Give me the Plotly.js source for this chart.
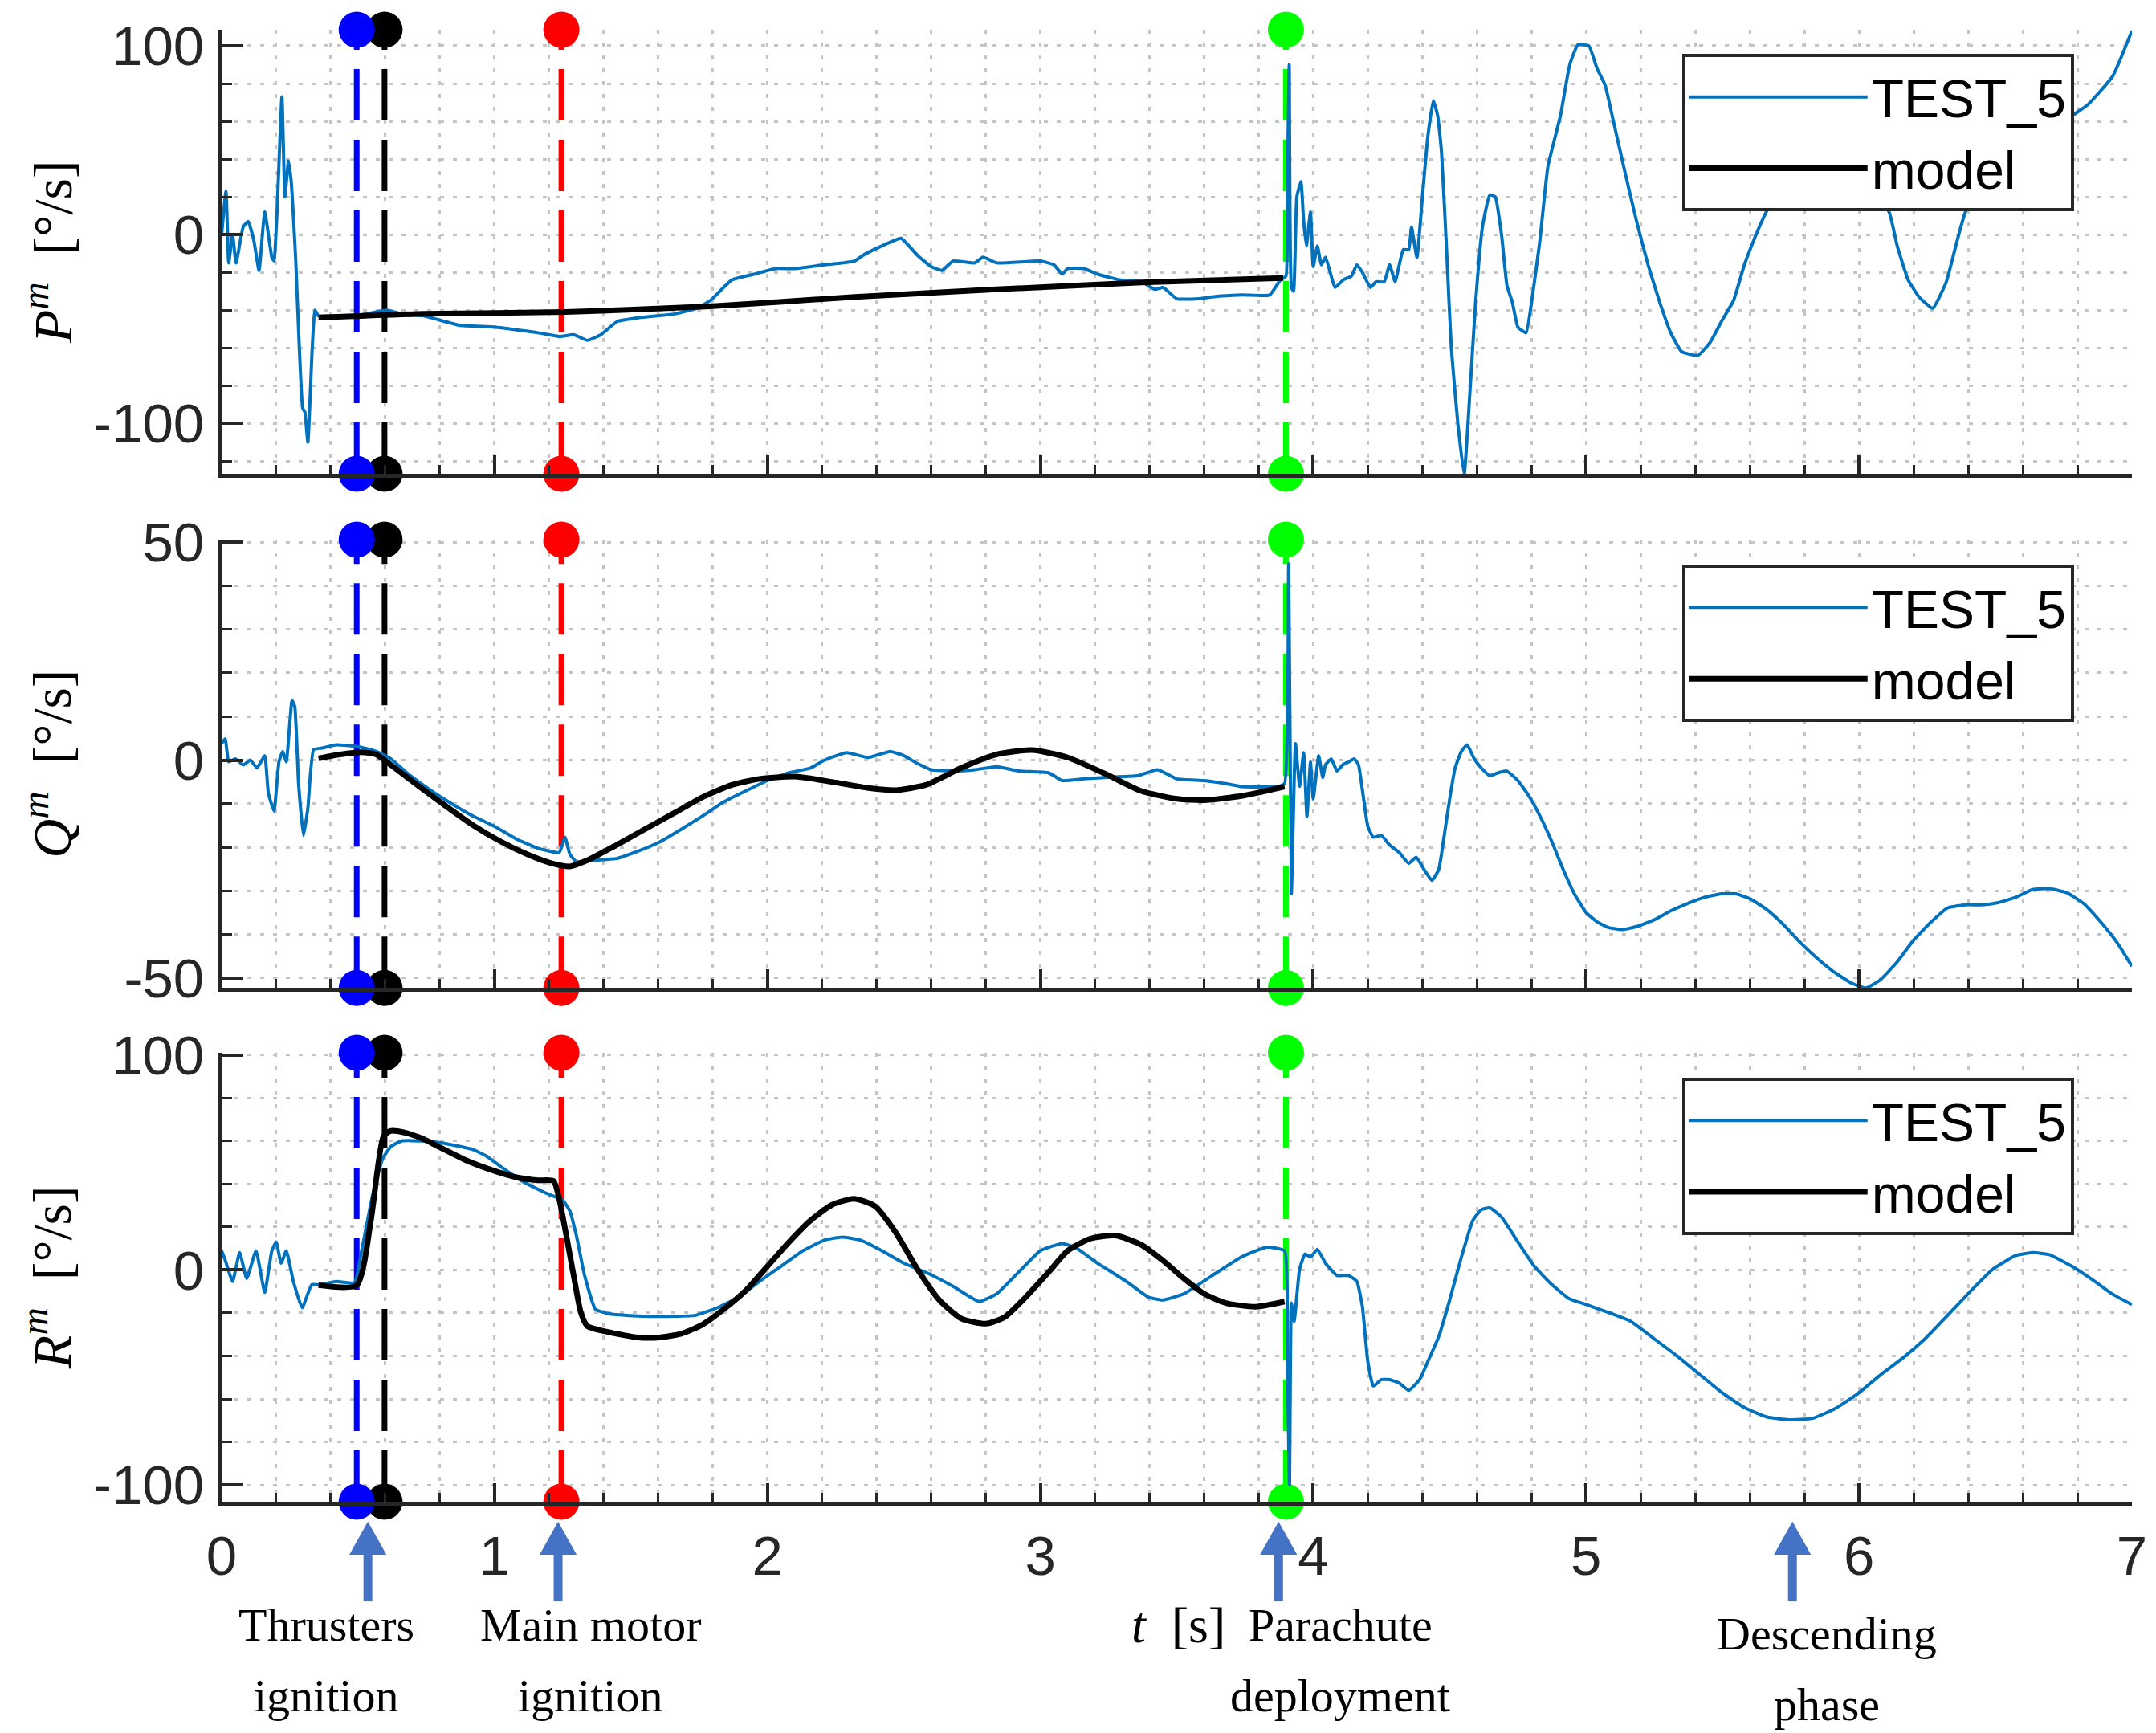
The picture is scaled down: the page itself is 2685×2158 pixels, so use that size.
<!DOCTYPE html>
<html>
<head>
<meta charset="utf-8">
<script src="https://cdn.plot.ly/plotly-3.0.1.min.js"></script>
<style>
  html, body { margin: 0; padding: 0; background: #fff; }
  #chart { width: 2685px; height: 2158px; }
</style>
</head>
<body>
<div id="chart"></div>
<script>
  // ---- data ----
  // P^m, measured (TEST_5)
  var tP = [0, 0.016, 0.026, 0.04, 0.053, 0.079, 0.097, 0.118, 0.137, 0.158, 0.184, 0.192, 0.203, 0.221, 0.232,
    0.245, 0.255, 0.271, 0.297, 0.305, 0.316, 0.332, 0.342, 0.355, 0.40, 0.47, 0.53, 0.605, 0.66, 0.74, 0.87,
    1.00, 1.16, 1.24, 1.29, 1.34, 1.39, 1.45, 1.53, 1.66, 1.74, 1.79, 1.87, 1.95, 2.03, 2.10, 2.21, 2.32, 2.35,
    2.39, 2.45, 2.49, 2.55, 2.60, 2.64, 2.68, 2.76, 2.79, 2.84, 3.00, 3.05, 3.08, 3.10, 3.16, 3.21, 3.29, 3.37,
    3.42, 3.45, 3.50, 3.58, 3.63, 3.74, 3.84, 3.88, 3.90, 3.905, 3.912, 3.92, 3.928, 3.94, 3.955, 3.965, 3.975,
    3.99, 4.00, 4.015, 4.03, 4.045, 4.066, 4.08, 4.11, 4.14, 4.16, 4.18, 4.21, 4.23, 4.26, 4.28, 4.30, 4.33,
    4.35, 4.36, 4.38, 4.40, 4.42, 4.44, 4.456, 4.47, 4.49, 4.506, 4.53, 4.553, 4.574, 4.595, 4.62, 4.647, 4.667,
    4.69, 4.71, 4.73, 4.75, 4.78, 4.80, 4.83, 4.86, 4.906, 4.94, 4.97, 5.01, 5.04, 5.07, 5.10, 5.144, 5.185,
    5.227, 5.27, 5.31, 5.35, 5.41, 5.455, 5.496, 5.54, 5.58, 5.62, 5.66, 5.72, 5.80, 5.88, 5.95, 6.03, 6.11,
    6.14, 6.18, 6.22, 6.27, 6.32, 6.36, 6.39, 6.48, 6.58, 6.70, 6.78, 6.84, 6.93, 7.00];
  var testP = [0, 23, -15, 0, -15, 4, 7, -3, -19, 12, -12, -14, 12, 73, 20,
    39, 28, -12, -92, -94, -110, -60, -40, -43, -43, -43, -42, -40, -42, -43, -48,
    -49, -52, -54, -53, -56, -53, -46, -44, -42, -39, -35, -24, -21, -18, -18, -16, -14, -11,
    -8, -4, -2, -11, -17, -19, -14, -15, -12, -15, -14, -16, -21, -18, -18, -21, -24, -25,
    -29, -28, -34, -34, -33, -32, -32, -24, -22, 20, 90, -28, -30, 20, 28, 7, -6,
    12, -17, -6, -16, -12, -22, -28, -24, -22, -16, -20, -28, -25, -25, -16, -25, -8,
    -8, 4, -12, 20, 52, 71, 63, 44, -12, -60, -100, -127, -84, -36, 4, 21, 20,
    0, -27, -36, -49, -52, -36, -4, 36, 63, 90, 100.5, 100, 88, 79, 60, 32, 7,
    -16, -36, -52, -62, -64, -57, -46, -35, -16, -1, 12, 28, 38, 40, 36, 26, 12,
    -6, -24, -33, -39, -25, -3, 12, 32, 47, 58, 63, 69, 84, 108];
  // P^m, model
  var tPm = [0.355, 0.74, 1.26, 1.79, 2.32, 2.84, 3.37, 3.89];
  var modelP = [-44, -42, -41, -38, -33, -29, -25.4, -23];

  // Q^m, measured (TEST_5)
  var tQ = [0, 0.013, 0.026, 0.05, 0.08, 0.105, 0.13, 0.158, 0.171, 0.192, 0.21, 0.224, 0.237, 0.258, 0.268,
    0.282, 0.30, 0.316, 0.337, 0.368, 0.42, 0.50, 0.566, 0.62, 0.684, 0.763, 0.84, 0.92, 1.0, 1.08, 1.158,
    1.237, 1.258, 1.276, 1.30, 1.368, 1.447, 1.526, 1.605, 1.684, 1.763, 1.84, 1.92, 2.0, 2.08, 2.158, 2.21,
    2.29, 2.37, 2.45, 2.50, 2.55, 2.60, 2.68, 2.76, 2.84, 2.92, 3.03, 3.08, 3.16, 3.26, 3.355, 3.43, 3.50,
    3.60, 3.68, 3.74, 3.87, 3.895, 3.91, 3.92, 3.935, 3.95, 3.965, 3.977, 3.99, 4.0, 4.02, 4.035, 4.045,
    4.066, 4.087, 4.108, 4.13, 4.15, 4.166, 4.18, 4.2, 4.22, 4.25, 4.28, 4.315, 4.35, 4.377, 4.41, 4.435,
    4.46, 4.48, 4.50, 4.52, 4.543, 4.564, 4.59, 4.616, 4.647, 4.678, 4.709, 4.75, 4.79, 4.833, 4.875, 4.916,
    4.957, 5.0, 5.04, 5.08, 5.134, 5.185, 5.248, 5.31, 5.372, 5.434, 5.496, 5.548, 5.6, 5.662, 5.724, 5.787,
    5.849, 5.91, 5.973, 6.025, 6.077, 6.14, 6.2, 6.265, 6.325, 6.39, 6.45, 6.51, 6.574, 6.636, 6.698, 6.76,
    6.823, 6.885, 6.947, 7.0];
  var testQ = [3.8, 4.9, -0.4, 0.3, -1.1, 0, -1.8, 1, -7.5, -11.7, -0.4, 2, -0.4, 13.7, 12.3,
    -5.4, -17.3, -11, 2.4, 2.75, 3.5, 3.1, 2, 0.3, -3.2, -6.8, -9.9, -12.8, -15.2, -18.1, -20.2,
    -21.2, -17.7, -21.6, -23.3, -23, -22.6, -20.9, -18.8, -15.9, -12.8, -9.6, -7.1, -4.7, -2.9, -1.8, 0,
    1.7, 0.6, 2, 1, -0.8, -2.2, -2.5, -2.2, -1.5, -2.5, -2.9, -4.7, -4.3, -3.9, -3.6, -2.2, -4.3,
    -4.7, -5.4, -6.1, -6.1, -5.4, 45, -30.7, 3.8, -6, 1.7, -13, -0.4, -8.9, 1, -4, -1.1,
    0.3, -2.5, -1.1, -0.4, 0.3, -1.1, -6.8, -15.2, -17.7, -17.3, -19.5, -21.2, -23.7, -22.3, -25.5, -27.6,
    -25.1, -17.3, -8.9, -1.8, 2, 3.5, 0.3, -1.8, -3.6, -2.9, -2.5, -4.7, -8.2, -13.1, -18.8, -25.1,
    -30.7, -35, -37.1, -38.4, -38.9, -38.2, -36.7, -34.6, -32.9, -31.5, -30.7, -30.7, -31.8, -34.3, -37.8, -42,
    -45.6, -48.7, -51.2, -52.3, -50.5, -46.3, -41.3, -37.1, -33.9, -33.2, -33.2, -32.7, -31.5, -29.7, -29.5, -30.4,
    -32.9, -37.1, -42, -47.3];
  // Q^m, model
  var tQm = [0.355, 0.434, 0.513, 0.566, 0.62, 0.71, 0.816, 0.92, 1.026, 1.13, 1.21, 1.276, 1.34, 1.447, 1.55,
    1.66, 1.763, 1.87, 1.97, 2.1, 2.237, 2.37, 2.47, 2.58, 2.71, 2.84, 2.97, 3.1, 3.24, 3.37, 3.5, 3.6, 3.74, 3.895];
  var modelQ = [0.4, 1.3, 1.8, 1.3, -1.1, -5.4, -10.3, -14.9, -18.8, -21.9, -23.7, -24.4, -23, -19.5, -15.9,
    -12.1, -8.5, -5.7, -4.3, -3.8, -5, -6.4, -6.9, -5.7, -1.8, 1.3, 2.3, 0.6, -3.2, -7.1, -8.9, -9.2, -8.2, -6.1];

  // R^m, measured (TEST_5)
  var tR = [0, 0.013, 0.04, 0.066, 0.092, 0.126, 0.158, 0.184, 0.2, 0.218, 0.237, 0.263, 0.295, 0.33, 0.355,
    0.42, 0.487, 0.513, 0.553, 0.59, 0.62, 0.66, 0.737, 0.816, 0.92, 0.97, 1.03, 1.105, 1.184, 1.25, 1.276,
    1.30, 1.33, 1.37, 1.42, 1.526, 1.63, 1.737, 1.816, 1.895, 1.97, 2.05, 2.13, 2.21, 2.276, 2.34, 2.42,
    2.5, 2.58, 2.68, 2.776, 2.84, 2.92, 3.0, 3.08, 3.13, 3.21, 3.316, 3.395, 3.447, 3.526, 3.63, 3.737,
    3.83, 3.895, 3.905, 3.913, 3.92, 3.93, 3.95, 3.97, 3.99, 4.015, 4.045, 4.087, 4.13, 4.16, 4.18, 4.2,
    4.22, 4.25, 4.28, 4.315, 4.35, 4.39, 4.42, 4.46, 4.5, 4.543, 4.585, 4.616, 4.647, 4.69, 4.75, 4.81,
    4.875, 4.937, 5.0, 5.08, 5.165, 5.248, 5.33, 5.413, 5.496, 5.58, 5.66, 5.745, 5.83, 5.91, 5.995, 6.077,
    6.16, 6.243, 6.325, 6.41, 6.49, 6.574, 6.636, 6.698, 6.78, 6.865, 6.927, 7.0];
  var testR = [8.9, 4.6, -5.4, 8.1, -4, 8.9, -10.4, 8.9, 13, 3.1, 8.9, -5.4, -17.6, -6.9, -6.9,
    -5.4, -6, 8.9, 34.6, 51.7, 57.4, 60, 60, 58.9, 56, 53, 47.4, 41, 36, 32.4, 27.4,
    16, -2.6, -18.3, -20.4, -21.4, -21.6, -21.1, -17.6, -12.6, -5.4, 1.7, 8.9, 13.9, 15.3, 13.9, 8.9,
    3.1, -1.1, -7.6, -14.7, -11.1, -1.1, 8.9, 12.3, 10.3, 3.1, -5.4, -12.6, -14, -11.1, -2.6, 6,
    10.6, 8.9, -41, -100, -15.4, -24, 0.3, 7.4, 6, 9.6, 3.1, -2.6, -2.6, -5.4, -16.9, -42.6,
    -54, -51, -51, -52.6, -56, -51, -42.6, -31, -14, 6, 23, 28, 28.9, 24.6, 13, 1.7,
    -6.9, -13.3, -16.1, -19.7, -24, -31.9, -39.7, -48.3, -56.9, -64, -68.3, -69.7, -69, -64.7, -57.6, -49,
    -41, -31.9, -21.1, -9.7, 0.3, 6.7, 8.1, 7.1, 1.7, -5.4, -11.1, -16.1];
  // R^m, model
  var tRm = [0.355, 0.495, 0.547, 0.592, 0.618, 0.67, 0.737, 0.816, 0.895, 1.0, 1.08, 1.158, 1.216, 1.237, 1.263,
    1.29, 1.316, 1.34, 1.42, 1.526, 1.605, 1.684, 1.763, 1.84, 1.92, 2.0, 2.08, 2.158, 2.237, 2.316, 2.395,
    2.47, 2.55, 2.63, 2.71, 2.8, 2.87, 2.947, 3.03, 3.1, 3.184, 3.276, 3.37, 3.447, 3.526, 3.6, 3.68, 3.79, 3.895];
  var modelR = [-7.1, -7.1, 23, 61.7, 64.6, 63.9, 61, 56, 51, 46, 43.1, 41.7, 41.4, 33, 16,
    -2.6, -19.7, -26.1, -29, -31.4, -31.4, -29.7, -25.4, -18.3, -9.7, 1.7, 13.1, 23, 30.3, 33.1, 29.6,
    17.4, 0.3, -14, -22.6, -25, -21.9, -12.6, -1.1, 8.9, 14.6, 16, 11.7, 4.6, -4, -11.1, -15.4, -17.1, -14.7];

  // event times (s): thrusters on, thrusters off, main motor, parachute
  var eventTimes = [0.495, 0.597, 1.245, 3.90];
  var eventColors = ['#0000ff', '#000000', '#ff0000', '#00ff00'];

  // axis limits and ticks
  var yRanges = [[-126.7, 108.5], [-52.3, 50.6], [-107.8, 101]];
  var yTickVals = [[-100, 0, 100], [-50, 0, 50], [-100, 0, 100]];
  var yTickText = [['-100', '0', '100'], ['-50', '0', '50'], ['-100', '0', '100']];
  var yMinorStep = [20, 10, 20];
  var yLabels = ['P', 'Q', 'R'];

  // bottom notes
  var arrowTimes = [0.536, 1.233, 3.873, 5.756];
  var noteTimes = [0.383, 1.351, 4.10, 5.883];
  var noteLines = [['Thrusters', 'ignition'], ['Main motor', 'ignition'], ['Parachute', 'deployment'], ['Descending', 'phase']];

  // ---- plot ----
  var axisCol = '#262626';
  var gridCol = '#c4c4c4';
  var arrowCol = '#4472c4';
  var sans = 'Liberation Sans, Arial, sans-serif';
  var serif = 'Liberation Serif, Times New Roman, serif';
  var domains = [[0.6983, 1], [0.349, 0.6536], [0, 0.305]];

  var series = [
    {t: tP, v: testP, tm: tPm, vm: modelP},
    {t: tQ, v: testQ, tm: tQm, vm: modelQ},
    {t: tR, v: testR, tm: tRm, vm: modelR}
  ];

  var data = [];
  var drawOrder = [1, 0, 2, 3];
  for (var p = 0; p < 3; p++) {
    var xa = p == 0 ? 'x' : 'x' + (p + 1);
    var ya = p == 0 ? 'y' : 'y' + (p + 1);
    for (var k = 0; k < drawOrder.length; k++) {
      var e = drawOrder[k];
      data.push({
        x: [eventTimes[e], eventTimes[e]],
        y: yRanges[p],
        xaxis: xa, yaxis: ya,
        mode: 'lines+markers',
        line: {color: eventColors[e], width: 7, dash: '64px,24px'},
        marker: {color: eventColors[e], size: 45},
        cliponaxis: false,
        showlegend: false,
        hoverinfo: 'skip'
      });
    }
    var lg = p == 0 ? 'legend' : 'legend' + (p + 1);
    data.push({
      x: series[p].t, y: series[p].v,
      xaxis: xa, yaxis: ya, legend: lg,
      name: 'TEST_5', mode: 'lines',
      line: {color: '#0072bd', width: 4, shape: 'spline', smoothing: 0.4}
    });
    data.push({
      x: series[p].tm, y: series[p].vm,
      xaxis: xa, yaxis: ya, legend: lg,
      name: 'model', mode: 'lines',
      line: {color: '#000000', width: 7, shape: 'spline', smoothing: 0.6}
    });
  }

  function xAxis(showLabels, anchor) {
    return {
      anchor: anchor,
      range: [0, 7], tick0: 0, dtick: 1,
      ticks: 'inside', ticklen: 23, tickwidth: 4, tickcolor: axisCol,
      showline: true, linecolor: axisCol, linewidth: 5,
      showgrid: true, gridcolor: gridCol, gridwidth: 3, griddash: '5px,11px',
      zeroline: false,
      showticklabels: showLabels,
      tickfont: {family: sans, size: 69, color: axisCol},
      ticklabelstandoff: 3,
      minor: {dtick: 0.2, tick0: 0, ticks: 'inside', ticklen: 11, tickwidth: 3, tickcolor: axisCol,
        showgrid: true, gridcolor: gridCol, gridwidth: 3, griddash: '5px,11px'}
    };
  }

  function yAxis(p, anchor) {
    return {
      anchor: anchor,
      domain: domains[p],
      range: yRanges[p],
      tickmode: 'array', tickvals: yTickVals[p], ticktext: yTickText[p],
      ticks: 'inside', ticklen: 27, tickwidth: 4, tickcolor: axisCol,
      showline: true, linecolor: axisCol, linewidth: 5,
      showgrid: true, gridcolor: gridCol, gridwidth: 3, griddash: '5px,11px',
      zeroline: false,
      tickfont: {family: sans, size: 69, color: axisCol},
      ticklabelstandoff: 3,
      minor: {dtick: yMinorStep[p], tick0: 0, ticks: 'inside', ticklen: 13, tickwidth: 3, tickcolor: axisCol,
        showgrid: true, gridcolor: gridCol, gridwidth: 3, griddash: '5px,11px'}
    };
  }

  function legendBox(top) {
    return {
      x: 0.7645, y: top, xanchor: 'left', yanchor: 'top',
      bgcolor: '#ffffff', bordercolor: axisCol, borderwidth: 4,
      font: {family: sans, size: 66, color: '#000000'},
      itemwidth: 222, tracegroupgap: 0
    };
  }

  var annotations = [];
  for (var p = 0; p < 3; p++) {
    annotations.push({
      xref: 'paper', yref: 'paper',
      x: -0.0905, y: (domains[p][0] + domains[p][1]) / 2,
      xanchor: 'center', yanchor: 'middle', textangle: -90, showarrow: false,
      text: '<i>' + yLabels[p] + '</i><sup><i>m</i></sup>  [°/s]',
      font: {family: serif, size: 68, color: '#000000'}
    });
  }
  var lineY = [[-0.084, -0.1315], [-0.084, -0.1315], [-0.084, -0.1315], [-0.090, -0.138]];
  for (var i = 0; i < noteLines.length; i++) {
    for (var j = 0; j < 2; j++) {
      annotations.push({
        xref: 'x3', yref: 'paper', x: noteTimes[i], y: lineY[i][j],
        xanchor: 'center', yanchor: 'middle', showarrow: false,
        text: noteLines[i][j],
        font: {family: serif, size: 58, color: '#000000'}
      });
    }
  }
  annotations.push({
    xref: 'x3', yref: 'paper', x: 3.505, y: -0.0835,
    xanchor: 'center', yanchor: 'middle', showarrow: false,
    text: '<i>t</i>  [s]',
    font: {family: serif, size: 64, color: '#000000'}
  });

  // upward arrows below the time axis
  var shapes = [];
  var headHalf = 0.068, yTail = -0.0677, yBase = -0.0360, yTip = -0.0135;
  for (var i = 0; i < arrowTimes.length; i++) {
    var a = arrowTimes[i];
    shapes.push({
      type: 'line', xref: 'x3', yref: 'paper',
      x0: a, x1: a, y0: yTail, y1: yBase + 0.002,
      line: {color: arrowCol, width: 11}
    });
    shapes.push({
      type: 'path', xref: 'x3', yref: 'paper',
      path: 'M' + (a - headHalf) + ',' + yBase + 'L' + a + ',' + yTip + 'L' + (a + headHalf) + ',' + yBase + 'Z',
      fillcolor: arrowCol, line: {width: 0}
    });
  }

  var layout = {
    width: 2685, height: 2158,
    margin: {l: 276, r: 30, t: 37, b: 288},
    paper_bgcolor: '#ffffff', plot_bgcolor: '#ffffff',
    showlegend: true,
    xaxis: xAxis(false, 'y'),
    xaxis2: Object.assign(xAxis(false, 'y2'), {matches: 'x'}),
    xaxis3: Object.assign(xAxis(true, 'y3'), {matches: 'x'}),
    yaxis: yAxis(0, 'x'),
    yaxis2: yAxis(1, 'x2'),
    yaxis3: yAxis(2, 'x3'),
    legend: legendBox(0.9835),
    legend2: legendBox(0.6367),
    legend3: legendBox(0.2881),
    annotations: annotations,
    shapes: shapes
  };

  Plotly.newPlot('chart', data, layout, {staticPlot: true});
</script>
</body>
</html>
